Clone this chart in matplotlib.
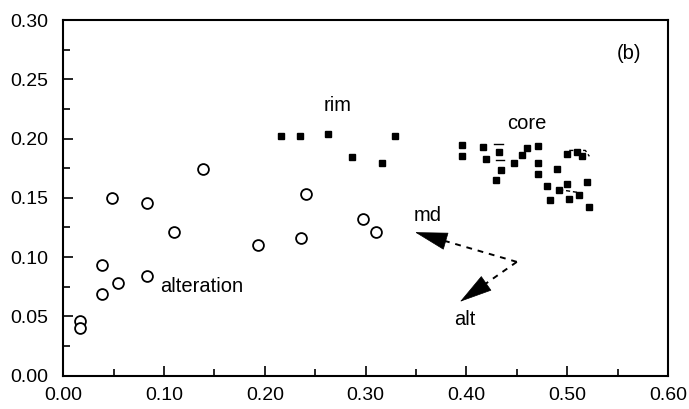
import matplotlib
matplotlib.use("Agg")
import matplotlib.pyplot as plt
import numpy as np
from matplotlib.ticker import MultipleLocator

plt.rcParams['font.family'] = ['Liberation Sans', 'DejaVu Sans']

# alteration (open circles)
alt_x = [0.0165, 0.0165, 0.038, 0.038, 0.0545, 0.048, 0.083, 0.083, 0.110, 0.139,
         0.193, 0.236, 0.241, 0.297, 0.3105]
alt_y = [0.046, 0.040, 0.0935, 0.069, 0.078, 0.150, 0.146, 0.084, 0.1215, 0.174,
         0.110, 0.116, 0.153, 0.1325, 0.121]

# rim (filled squares)
rim_x = [0.2164, 0.2345, 0.263, 0.2864, 0.316, 0.3287]
rim_y = [0.2021, 0.2021, 0.204, 0.1848, 0.1796, 0.2021]

# core (filled squares)
core_x = [0.396, 0.396, 0.416, 0.419, 0.4325, 0.4347, 0.4294, 0.4476, 0.455, 0.460,
          0.471, 0.471, 0.471, 0.480, 0.483, 0.490, 0.492, 0.500, 0.500, 0.502,
          0.510, 0.512, 0.515, 0.520, 0.522]
core_y = [0.1946, 0.185, 0.193, 0.183, 0.1888, 0.1735, 0.1654, 0.1793, 0.186, 0.192,
          0.194, 0.179, 0.170, 0.160, 0.148, 0.174, 0.157, 0.187, 0.162, 0.149,
          0.189, 0.152, 0.185, 0.163, 0.142]

# trend arrows
vertex = (0.450, 0.096)
md_tip = (0.349, 0.121)
alt_tip = (0.3936, 0.0624)

fig = plt.figure(figsize=(6.89, 4.09), dpi=100)
ax = fig.add_axes([0.0919, 0.0814, 0.8776, 0.8697])
ax.set_xlim(0, 0.60)
ax.set_ylim(0, 0.30)

ax.plot(alt_x, alt_y, linestyle='none', marker='o', markersize=7.8,
        markerfacecolor='white', markeredgecolor='black', markeredgewidth=1.3)
ax.plot(rim_x, rim_y, linestyle='none', marker='s', markersize=5,
        color='black')
ax.plot(core_x, core_y, linestyle='none', marker='s', markersize=5,
        color='black')

# short dashed tie lines within core
ax.plot([0.427, 0.436], [0.1956, 0.1956], color='black', lw=1)
ax.plot([0.429, 0.437], [0.1817, 0.1817], color='black', lw=1)
ax.plot([0.502, 0.518, 0.522], [0.190, 0.190, 0.185], color='black', lw=1, linestyle=(0, (3, 2)))
ax.plot([0.492, 0.515], [0.157, 0.154], color='black', lw=1, linestyle=(0, (3, 2)))

head_px = 31.0
for tip in (md_tip, alt_tip):
    p_tip = ax.transData.transform(tip)
    p_v = ax.transData.transform(vertex)
    d = p_v - p_tip
    d = d / np.hypot(*d)
    base = ax.transData.inverted().transform(p_tip + d * head_px)
    ax.plot([vertex[0], base[0]], [vertex[1], base[1]], color='black', lw=1.4,
            linestyle=(0, (3, 3)))
    ax.annotate('', xy=tip, xytext=base,
                arrowprops=dict(arrowstyle='-|>,head_length=1.1,head_width=0.3',
                                color='black', lw=0.5,
                                mutation_scale=20, shrinkA=0, shrinkB=0))

fs = 14.5
ax.text(0.272, 0.228, 'rim', fontsize=fs, ha='center', va='center')
ax.text(0.46, 0.213, 'core', fontsize=fs, ha='center', va='center')
ax.text(0.096, 0.075, 'alteration', fontsize=fs, ha='left', va='center')
ax.text(0.362, 0.135, 'md', fontsize=fs, ha='center', va='center')
ax.text(0.398, 0.047, 'alt', fontsize=fs, ha='center', va='center')
ax.text(0.561, 0.2716, '(b)', fontsize=fs, ha='center', va='center')

ax.xaxis.set_major_locator(MultipleLocator(0.10))
ax.xaxis.set_minor_locator(MultipleLocator(0.05))
ax.yaxis.set_major_locator(MultipleLocator(0.05))
ax.yaxis.set_minor_locator(MultipleLocator(0.025))
ax.xaxis.set_major_formatter(plt.FormatStrFormatter('%.2f'))
ax.yaxis.set_major_formatter(plt.FormatStrFormatter('%.2f'))
ax.tick_params(which='both', direction='in', top=False, right=False,
               labelsize=14, width=1.2)
ax.tick_params(which='major', length=7)
ax.tick_params(which='minor', length=5)
ax.tick_params(axis='y', which='major', pad=11)
ax.tick_params(axis='x', which='major', pad=8)
for s in ax.spines.values():
    s.set_linewidth(1.5)

fig.savefig('out.png', dpi=100)
